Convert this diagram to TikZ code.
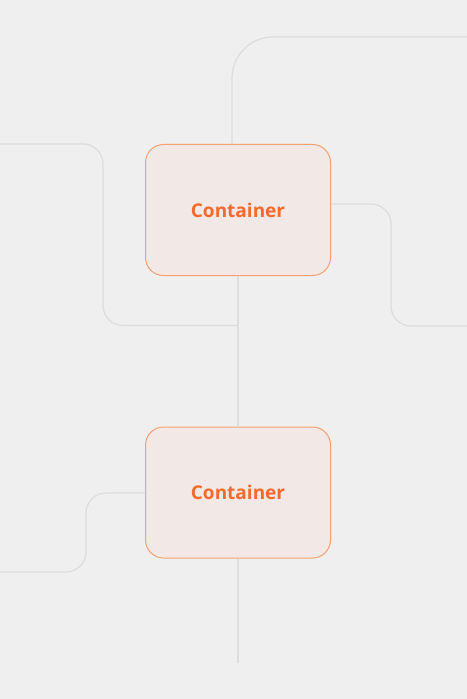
\documentclass[tikz,border=0pt]{standalone}
\usepackage{fontspec}
\setmainfont{Open Sans}
\definecolor{bg}{HTML}{EFEFEF}
\definecolor{wire}{HTML}{DDDDDD}
\definecolor{boxfill}{HTML}{F2E8E5}
\definecolor{boxline}{HTML}{F7A06F}
\definecolor{boxtext}{HTML}{F26B2B}
\tikzset{
  container/.style={draw=boxline, fill=boxfill, line width=1bp, rounded corners=18bp,
    minimum width=185bp, minimum height=131bp, inner sep=0pt,
    text=boxtext, font=\fontsize{19bp}{21bp}\selectfont\bfseries},
  wirestyle/.style={draw=wire, line width=1.3bp},
}
\begin{document}
\begin{tikzpicture}[x=1bp,y=-1bp]
\fill[bg] (0,0) rectangle (467,699);
\useasboundingbox (0,0) rectangle (467,699);
% free ends of connectors
\coordinate (tr) at (467,37);
\coordinate (lt) at (0,144);
\coordinate (rt) at (467,326);
\coordinate (lb) at (0,572);
\coordinate (bot) at (238,663);
\coordinate (j) at (238,325.5);
% boxes
\node[container] (b1) at (238,210) {Container};
\node[container] (b2) at (238,492.5) {Container};
% connectors
\draw[wirestyle, rounded corners=41bp] (b1.north -| 232,0) -- (232,37) -- (tr);
\draw[wirestyle, rounded corners=20bp] (lt) -- (103,144) -- (103,325.5) -- (j);
\draw[wirestyle] (b1.south) -- (b2.north);
\draw[wirestyle, rounded corners=20bp] (b1.east |- 0,204) -- (391,204) -- (391,326) -- (rt);
\draw[wirestyle, rounded corners=20bp] (b2.west |- 0,493) -- (86,493) -- (86,572) -- (lb);
\draw[wirestyle] (b2.south) -- (bot);
\end{tikzpicture}
\end{document}
